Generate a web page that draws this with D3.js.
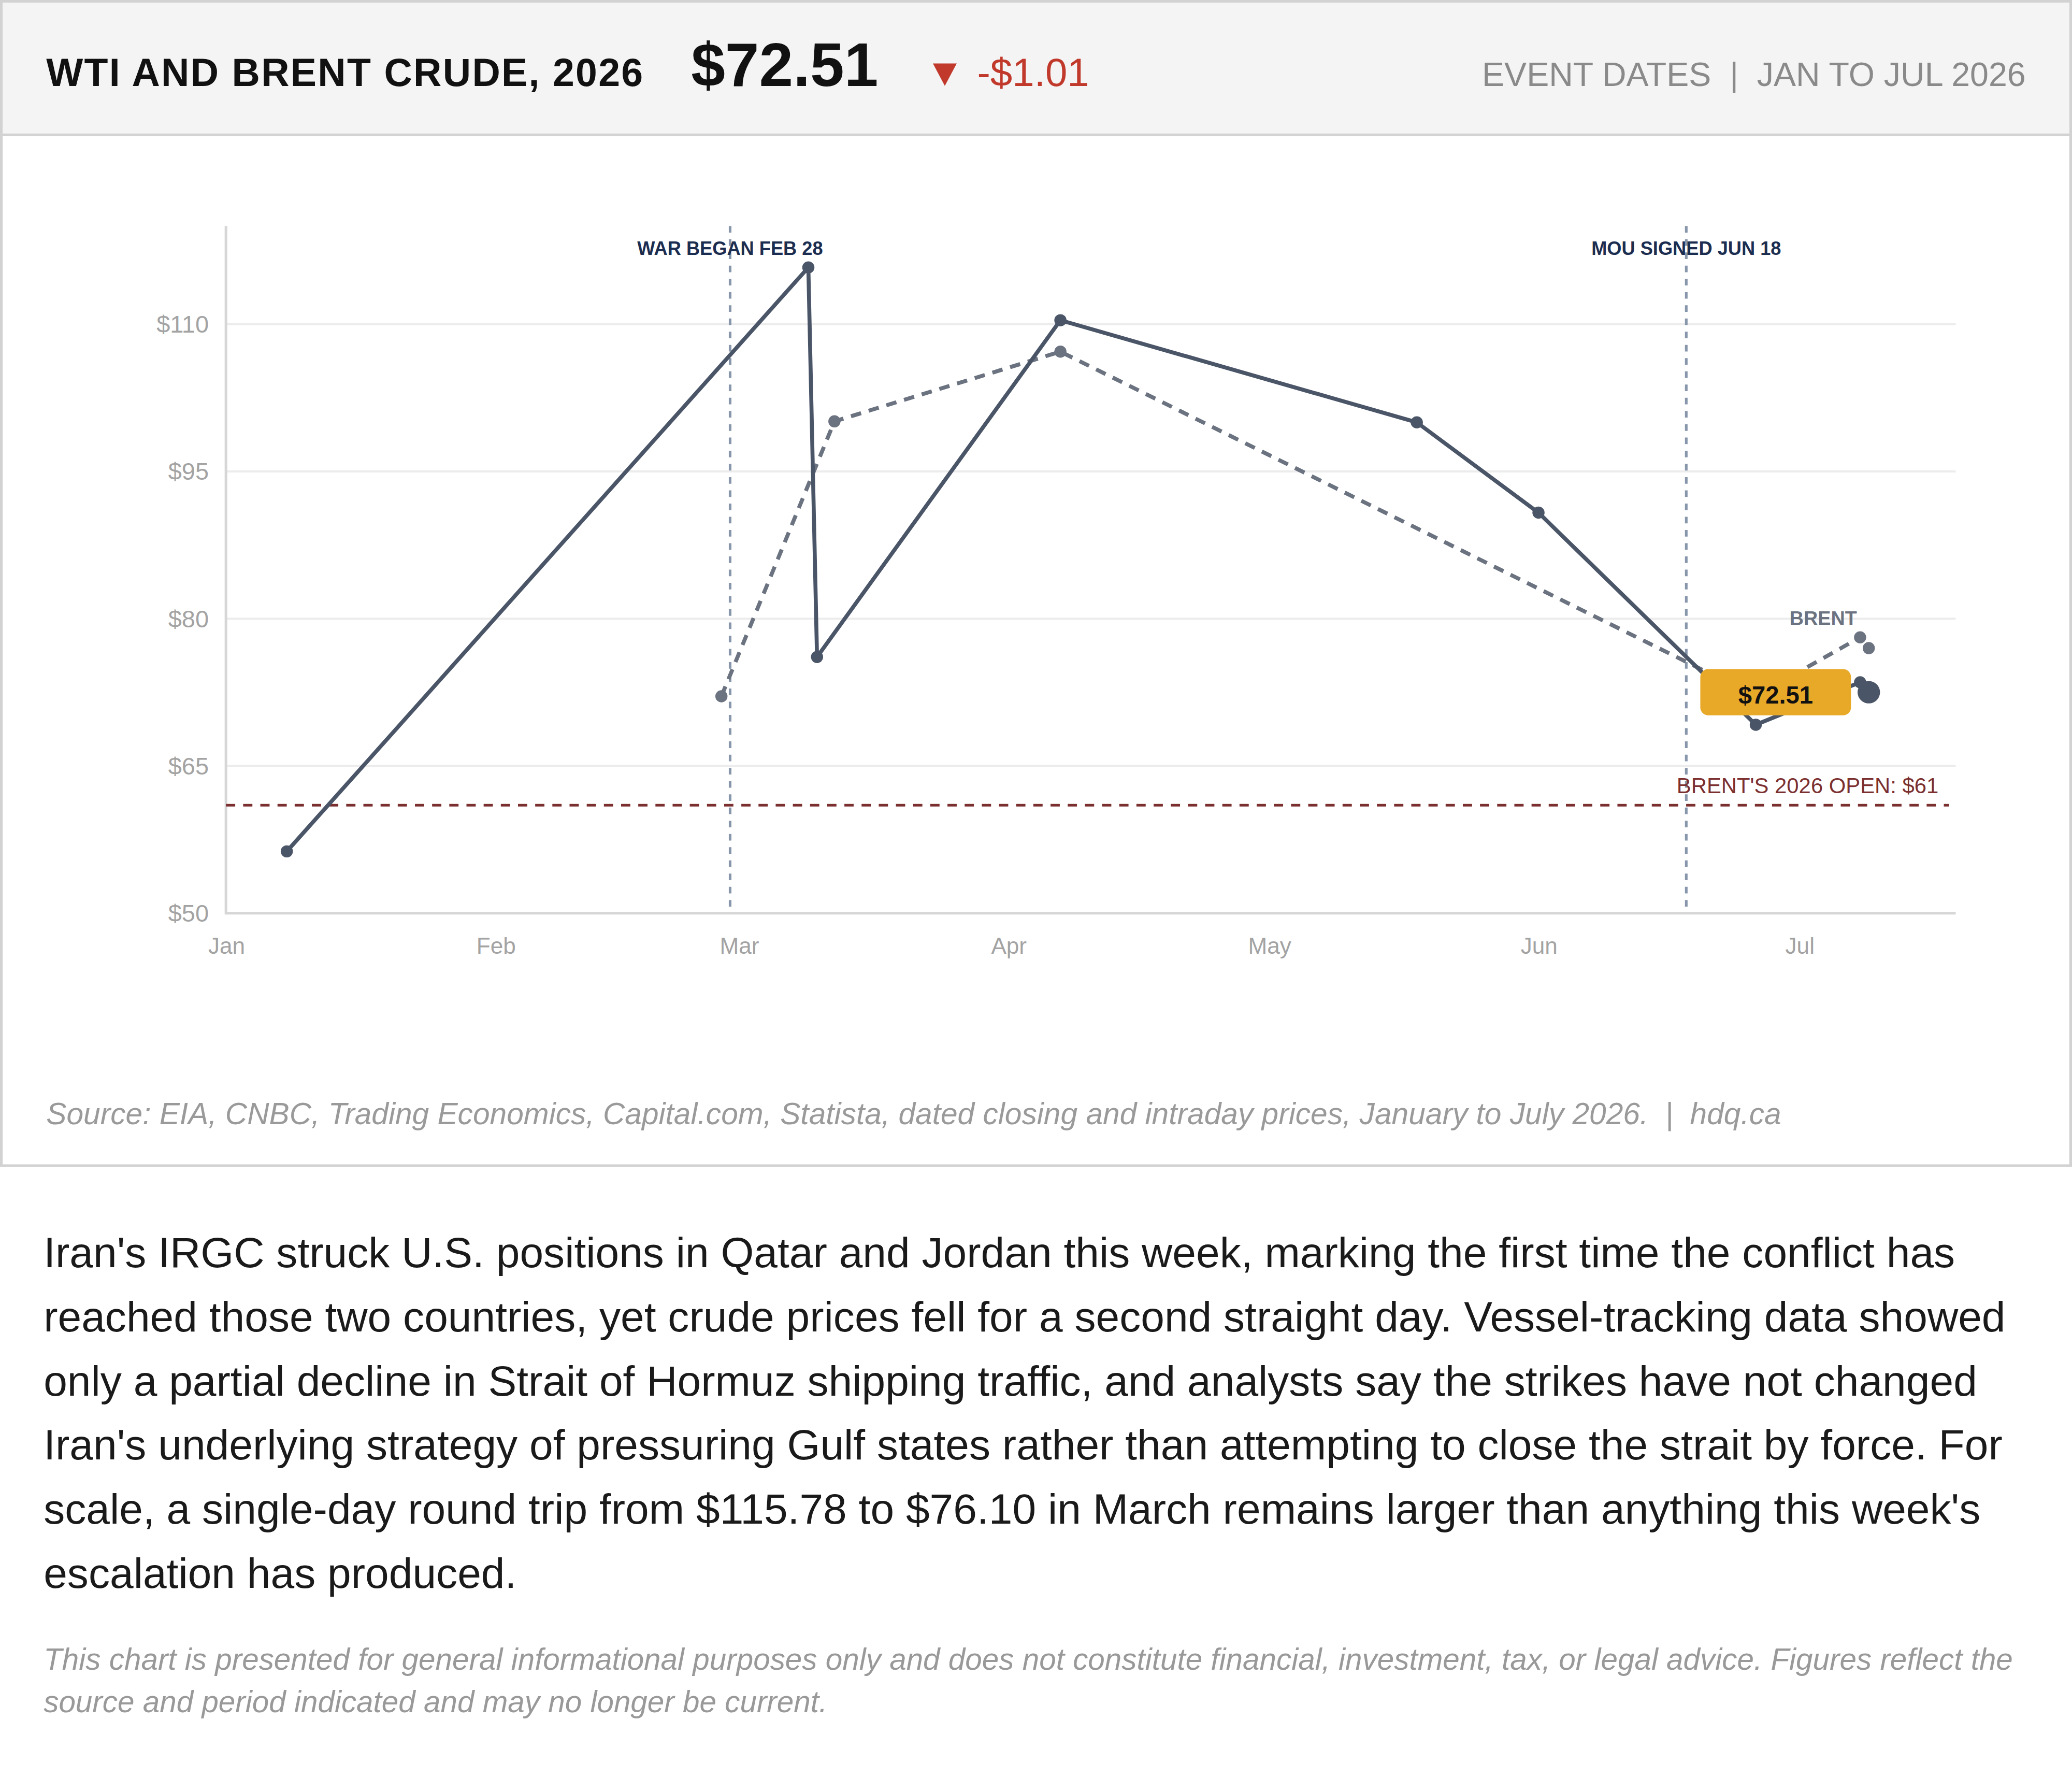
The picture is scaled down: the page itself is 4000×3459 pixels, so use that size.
<!DOCTYPE html>
<html>
<head>
<meta charset="utf-8">
<script src="https://cdn.jsdelivr.net/npm/d3@7"></script>
<style>
  html, body { margin: 0; padding: 0; background: #fff; }
  body { font-family: "Liberation Sans", Arial, Helvetica, sans-serif; }
  #page { width: 1568px; height: 1356px; position: relative; zoom: 2.5510204; }
  #chart { position: absolute; left: 0; top: 0; }
  #story {
    position: absolute; left: 33px; top: 923.6px; width: 1505px;
    font-size: 32.2px; line-height: 48.5px; color: #1a1a1a; margin: 0;
  }
  #note {
    position: absolute; left: 33px; top: 1239.5px; width: 1505px;
    font-size: 22.9px; line-height: 32.2px; color: #999; font-style: italic; margin: 0;
  }
</style>
</head>
<body>
<div id="page">
  <div id="chart"></div>
  <p id="story"></p>
  <p id="note"></p>
</div>
<script>
// WTI (solid) and Brent (dashed), dated prices
const wtiDates = ["2026-01-08", "2026-03-09", "2026-03-10", "2026-04-07", "2026-05-18", "2026-06-01", "2026-06-26", "2026-07-08", "2026-07-09"];
const wtiPrices = [56.3, 115.78, 76.10, 110.4, 100.0, 90.8, 69.2, 73.52, 72.51];
const brentDates = ["2026-02-27", "2026-03-12", "2026-04-07", "2026-06-26", "2026-07-08", "2026-07-09"];
const brentPrices = [72.1, 100.1, 107.2, 72.1, 78.1, 77.0];

const eventDates = ["2026-02-28", "2026-06-18"];
const eventLabels = ["WAR BEGAN FEB 28", "MOU SIGNED JUN 18"];
const brentOpen = 61;

const yTicks = [50, 65, 80, 95, 110];
const xStart = "2026-01-01", xEnd = "2026-07-19";

const titleText = "WTI AND BRENT CRUDE, 2026";
const rangeText = "EVENT DATES \u00a0|\u00a0 JAN TO JUL 2026";
const sourceText = "Source: EIA, CNBC, Trading Economics, Capital.com, Statista, dated closing and intraday prices, January to July 2026. \u00a0|\u00a0 hdq.ca";
const storyText = "Iran's IRGC struck U.S. positions in Qatar and Jordan this week, marking the first time the conflict has reached those two countries, yet crude prices fell for a second straight day. Vessel-tracking data showed only a partial decline in Strait of Hormuz shipping traffic, and analysts say the strikes have not changed Iran's underlying strategy of pressuring Gulf states rather than attempting to close the strait by force. For scale, a single-day round trip from $115.78 to $76.10 in March remains larger than anything this week's escalation has produced.";
const noteText = "This chart is presented for general informational purposes only and does not constitute financial, investment, tax, or legal advice. Figures reflect the source and period indicated and may no longer be current.";

const parse = d3.utcParse("%Y-%m-%d");
const wti = wtiDates.map((d, i) => ({ date: parse(d), value: wtiPrices[i] }));
const brent = brentDates.map((d, i) => ({ date: parse(d), value: brentPrices[i] }));
const last = wti[wti.length - 1];
const prev = wti[wti.length - 2];
const money = v => "$" + v.toFixed(2);

const width = 1568, height = 883;
const margin = { left: 171, right: 88, top: 171, bottom: 192 };
const font = '"Liberation Sans", Arial, Helvetica, sans-serif';

const svg = d3.select("#chart").append("svg")
    .attr("width", width)
    .attr("height", height)
    .style("font-family", font);

// card + header band
svg.append("rect")
    .attr("x", 1).attr("y", 1)
    .attr("width", width - 2).attr("height", height - 2)
    .attr("fill", "#fff").attr("stroke", "#d2d2d2").attr("stroke-width", 2);
svg.append("rect")
    .attr("x", 2).attr("y", 2)
    .attr("width", width - 4).attr("height", 100)
    .attr("fill", "#f4f4f4");
svg.append("line")
    .attr("x1", 1).attr("x2", width - 1)
    .attr("y1", 102).attr("y2", 102)
    .attr("stroke", "#d2d2d2").attr("stroke-width", 2);

svg.append("text")
    .attr("x", 35).attr("y", 65)
    .attr("font-size", 29.5).attr("font-weight", "bold").attr("fill", "#111")
    .attr("letter-spacing", 0.9)
    .text(titleText);
svg.append("text")
    .attr("x", 523).attr("y", 65)
    .attr("font-size", 46.3).attr("font-weight", "bold").attr("fill", "#111")
    .text(money(last.value));
svg.append("path")
    .attr("d", "M706,48 L724,48 L715,65 Z")
    .attr("fill", "#c0392b");
svg.append("text")
    .attr("x", 739.5).attr("y", 65)
    .attr("font-size", 29.9).attr("fill", "#c0392b")
    .text("-" + money(prev.value - last.value));
svg.append("text")
    .attr("x", 1533).attr("y", 65)
    .attr("text-anchor", "end")
    .attr("font-size", 25.3).attr("fill", "#8a8a8a")
    .text(rangeText);

// scales
const xScale = d3.scaleUtc()
    .domain([parse(xStart), parse(xEnd)])
    .range([margin.left, width - margin.right]);
const yScale = d3.scaleLinear()
    .domain([50, 120])
    .range([height - margin.bottom, margin.top]);

const x0 = margin.left, x1 = width - margin.right;
const y0 = height - margin.bottom, y1 = margin.top;

// gridlines
svg.append("g")
  .selectAll("line")
  .data(yTicks.filter(t => t > 50))
  .enter().append("line")
    .attr("x1", x0).attr("x2", x1)
    .attr("y1", d => yScale(d)).attr("y2", d => yScale(d))
    .attr("stroke", "#ececec").attr("stroke-width", 1.5);

// axes
const yAxis = d3.axisLeft(yScale)
    .tickValues(yTicks)
    .tickFormat(d => "$" + d)
    .tickSize(0)
    .tickPadding(13);
const yAxisG = svg.append("g")
    .attr("transform", `translate(${x0},0)`)
    .call(yAxis);
yAxisG.select(".domain").remove();
yAxisG.selectAll("text")
    .attr("font-size", 18.4).attr("fill", "#a3a3a3")
    .style("font-family", font);

const xAxis = d3.axisBottom(xScale)
    .tickValues(d3.utcMonth.range(parse("2026-01-01"), parse("2026-07-02")))
    .tickFormat(d3.utcFormat("%b"))
    .tickSize(0)
    .tickPadding(18.5);
const xAxisG = svg.append("g")
    .attr("transform", `translate(0,${y0})`)
    .call(xAxis);
xAxisG.select(".domain").remove();
xAxisG.selectAll("text")
    .attr("font-size", 17.3).attr("fill", "#a3a3a3")
    .style("font-family", font);

svg.append("line")
    .attr("x1", x0).attr("x2", x0).attr("y1", y1).attr("y2", y0 + 1)
    .attr("stroke", "#d6d6d6").attr("stroke-width", 2);
svg.append("line")
    .attr("x1", x0).attr("x2", x1).attr("y1", y0).attr("y2", y0)
    .attr("stroke", "#d6d6d6").attr("stroke-width", 2);

// event markers
const events = eventDates.map((d, i) => ({ date: parse(d), label: eventLabels[i] }));
svg.append("g").selectAll("line")
  .data(events)
  .enter().append("line")
    .attr("x1", d => xScale(d.date)).attr("x2", d => xScale(d.date))
    .attr("y1", y1).attr("y2", y0)
    .attr("stroke", "#8796aa").attr("stroke-width", 2)
    .attr("stroke-dasharray", "5,5");
svg.append("g").selectAll("text")
  .data(events)
  .enter().append("text")
    .attr("x", d => xScale(d.date))
    .attr("y", 193)
    .attr("text-anchor", "middle")
    .attr("font-size", 14.2).attr("font-weight", "bold").attr("fill", "#1b2d50")
    .text(d => d.label);

// Brent 2026 open reference
svg.append("line")
    .attr("x1", x0).attr("x2", x1 - 5)
    .attr("y1", yScale(brentOpen)).attr("y2", yScale(brentOpen))
    .attr("stroke", "#7b2f2f").attr("stroke-width", 2)
    .attr("stroke-dasharray", "7,6");
svg.append("text")
    .attr("x", 1467).attr("y", yScale(brentOpen) - 9)
    .attr("text-anchor", "end")
    .attr("font-size", 16.4).attr("fill", "#7b2f2f")
    .text("BRENT'S 2026 OPEN: $" + brentOpen);

// series
const line = d3.line()
    .x(d => xScale(d.date))
    .y(d => yScale(d.value));

svg.append("path")
    .attr("fill", "none")
    .attr("stroke", "#6b7280")
    .attr("stroke-width", 3)
    .attr("stroke-dasharray", "8,6")
    .attr("d", line(brent));
svg.append("path")
    .attr("fill", "none")
    .attr("stroke", "#4a5568")
    .attr("stroke-width", 3)
    .attr("stroke-linejoin", "round")
    .attr("d", line(wti));

svg.append("g").selectAll("circle")
  .data(brent)
  .enter().append("circle")
    .attr("cx", d => xScale(d.date))
    .attr("cy", d => yScale(d.value))
    .attr("r", 4.6)
    .attr("fill", "#6b7280");
svg.append("g").selectAll("circle")
  .data(wti)
  .enter().append("circle")
    .attr("cx", d => xScale(d.date))
    .attr("cy", d => yScale(d.value))
    .attr("r", (d, i) => i === wti.length - 1 ? 8.5 : 4.6)
    .attr("fill", "#4a5568");

// BRENT label
const bLast = brent[brent.length - 1];
svg.append("text")
    .attr("x", xScale(bLast.date) - 9)
    .attr("y", yScale(bLast.value) - 17.5)
    .attr("text-anchor", "end")
    .attr("font-size", 14.8).attr("font-weight", "bold").attr("fill", "#6b7280")
    .text("BRENT");

// current price tag
const lx = xScale(last.date), ly = yScale(last.value);
svg.append("rect")
    .attr("x", lx - 127.5).attr("y", ly - 17.5)
    .attr("width", 114).attr("height", 35)
    .attr("rx", 6)
    .attr("fill", "#e8a828");
svg.append("text")
    .attr("x", lx - 70.5).attr("y", ly + 8.5)
    .attr("text-anchor", "middle")
    .attr("font-size", 18.5).attr("font-weight", "bold").attr("fill", "#111")
    .text(money(last.value));

// source line
svg.append("text")
    .attr("x", 35).attr("y", 850.5)
    .attr("font-size", 23).attr("font-style", "italic").attr("fill", "#9a9a9a")
    .text(sourceText);

d3.select("#story").text(storyText);
d3.select("#note").text(noteText);
</script>
</body>
</html>
